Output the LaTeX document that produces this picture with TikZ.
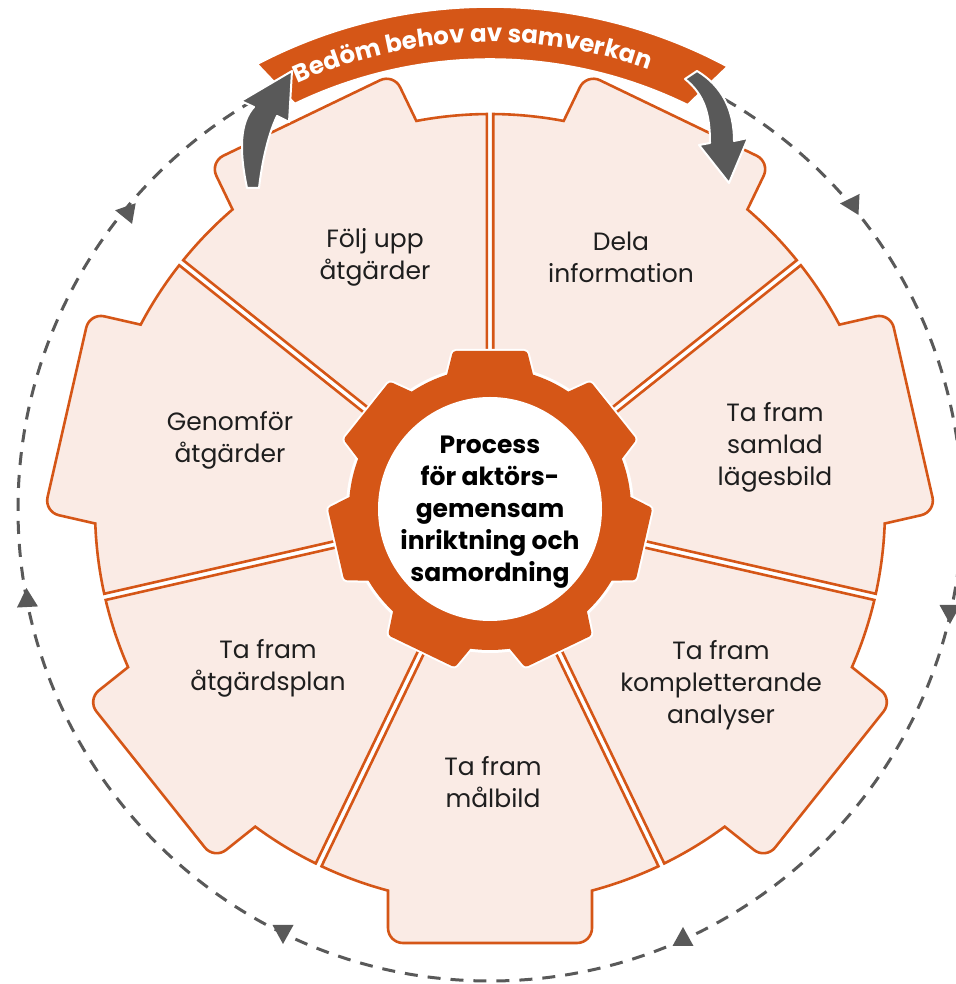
\documentclass[tikz,border=0pt]{standalone}
\usepackage{fontspec}
\setmainfont{Poppins}
\usetikzlibrary{decorations.text}
\definecolor{org}{RGB}{213,86,23}
\definecolor{segfill}{RGB}{250,235,229}
\definecolor{gry}{RGB}{89,89,89}
\definecolor{txt}{RGB}{30,30,30}
\begin{document}
\begin{tikzpicture}[x=0.5pt,y=0.5pt,
  seg/.style={fill=segfill, draw=org, line width=1.3pt, line join=miter},
  lbl/.style={align=center, text=txt, inner sep=0pt, font=\fontsize{12.5}{16}\selectfont},
  ctr/.style={align=center, text=black, inner sep=0pt, font=\bfseries\fontsize{12.5}{16}\selectfont},
  toothout/.style={fill=org, draw=white, line width=2pt, rounded corners=1.5pt},
  toothin/.style={fill=org, rounded corners=1.5pt},
  tri/.style={fill=gry},
  garrow/.style={fill=gry, draw=white, line width=1pt, line join=round},
  dashcirc/.style={draw=gry, line width=1.5pt, dash pattern=on 6.5pt off 5pt}]
\useasboundingbox (0,0) rectangle (956,984);
\coordinate (O) at (490,475);

% dashed outer circle
\draw[dashcirc] (O) circle[radius=472];
\foreach \x/\y/\a in {125/772/170, 850/780/177, 950/370/-90, 283/50/-90, 683/47/90, 27/386/93}{
  \begin{scope}[shift={(\x,\y)}, rotate=\a]
    \fill[tri] (10,0) -- (-9,10.5) -- (-9,-10.5) -- cycle;
  \end{scope}
}

% segments
\foreach \c in {115.714, 167.143, 218.571, 270, 321.429, 12.857, 64.286}{
  \begin{scope}[shift={(O)}, rotate=\c]
    \path[seg] (-24.304:130.04) -- (-25.25:395)
      arc[start angle=-25.25, end angle=-14.966, radius=395]
      -- (419,-102) arc[start angle=-90, end angle=0, radius=15]
      -- (434,87) arc[start angle=0, end angle=90, radius=15]
      -- (381.6,102) arc[start angle=14.966, end angle=25.25, radius=395]
      -- (24.304:130.04) -- cycle;
  \end{scope}
}

% gear
\foreach \a in {90, 38.571, -12.857, -64.286, -115.714, -167.143, 141.429}{
  \begin{scope}[shift={(O)}, rotate=\a]
    \path[toothout] (130,-44) -- (158,-37) -- (158,37) -- (130,44) -- cycle;
  \end{scope}
}
\path[fill=org, draw=white, line width=2pt] (O) circle[radius=142];
\foreach \a in {90, 38.571, -12.857, -64.286, -115.714, -167.143, 141.429}{
  \begin{scope}[shift={(O)}, rotate=\a]
    \path[toothin] (130,-44) -- (158,-37) -- (158,37) -- (130,44) -- cycle;
  \end{scope}
}
\fill[org] (O) circle[radius=141];
\fill[white] (O) circle[radius=112];

% labels
\node[ctr] (center) at (490,472) {Process\\för aktörs-\\gemensam\\inriktning och\\samordning};
\node[lbl] (folj) at (375,727) {Följ upp\\åtgärder};
\node[lbl] (dela) at (621,727) {Dela\\information};
\node[lbl] (samlad) at (775,537) {Ta fram\\samlad\\lägesbild};
\node[lbl] (kompl) at (721,299) {Ta fram\\kompletterande\\analyser};
\node[lbl] (malbild) at (493,202) {Ta fram\\målbild};
\node[lbl] (plan) at (268,316) {Ta fram\\åtgärdsplan};
\node[lbl] (genom) at (230,544) {Genomför\\åtgärder};

% banner
\begin{scope}[shift={(O)}]
  \path[fill=org, draw=white, line width=0.8pt] (117.6:502)
    arc[start angle=117.6, end angle=61.8, radius=502]
    -- (63.95:450) arc[start angle=63.95, end angle=115.7, radius=450] -- cycle;
  \path[decorate, decoration={text along path, text align=center,
     text={|\bfseries\fontsize{12.2}{12.2}\selectfont\color{white}|Bedöm behov av samverkan}}]
     (114.6:467) arc[start angle=114.6, end angle=69.8, radius=467];
\end{scope}

% grey curved arrows
\path[garrow] (247,796) .. controls (239,834) and (240,862) .. (254,877)
  -- (241,883) -- (292,913) -- (289,862) -- (277,868)
  .. controls (268,849) and (262,822) .. (259,796) -- cycle;
\path[garrow] (685,905) .. controls (705,889) and (710,869) .. (710,841)
  -- (699,839) -- (729,801) -- (748,846) -- (734,843)
  .. controls (734,874) and (722,898) .. (697,913) -- cycle;
\end{tikzpicture}
\end{document}
